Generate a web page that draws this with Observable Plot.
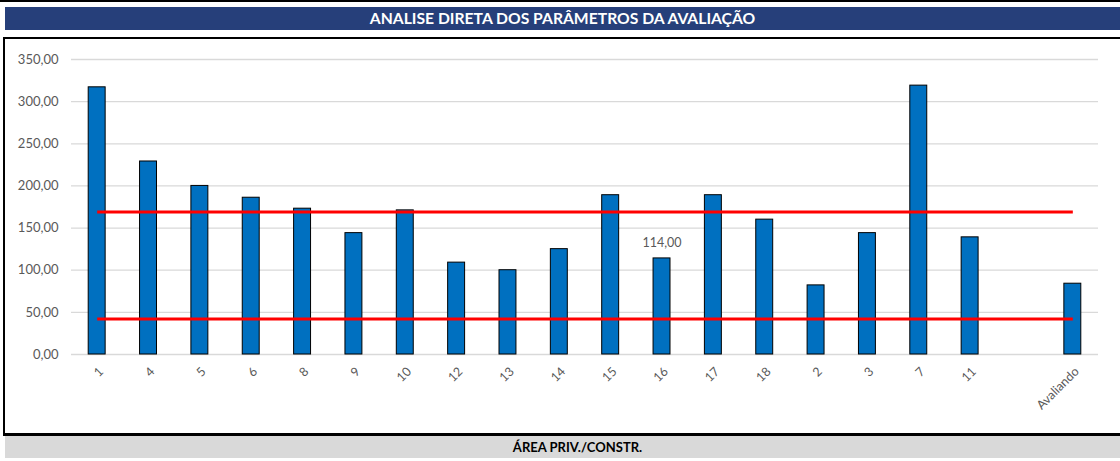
<!DOCTYPE html>
<html>
<head>
<meta charset="utf-8">
<script src="https://cdn.jsdelivr.net/npm/d3@7"></script>
<script src="https://cdn.jsdelivr.net/npm/@observablehq/plot@0.6"></script>
<style>
  html, body { margin: 0; padding: 0; background: #fff; }
  body { font-family: Lato, sans-serif; }
  .blk { position: absolute; background: #000; }
  #title { position: absolute; top: 7px; left: 5px; width: 1115px; height: 23px; background: #263f7a; color: #fff;
           font-weight: bold; font-size: 15.7px; text-align: center; line-height: 23px; font-family: Lato, sans-serif; }
  #chart { position: absolute; top: 39px; left: 5px; width: 1110px; height: 394px; overflow: hidden; }
  #chart svg { display: block; }
  #footer { position: absolute; top: 436px; left: 5px; width: 1085px; padding-left: 30px; height: 22px; background: #d9d9d9; color: #000;
            font-weight: bold; font-size: 13px; text-align: center; line-height: 22px; font-family: Lato, sans-serif; }
</style>
</head>
<body>
<div class="blk" style="top:0;left:0;width:1120px;height:2px"></div>
<div id="title">ANALISE DIRETA DOS PARÂMETROS DA AVALIAÇÃO</div>
<div class="blk" style="top:37px;left:3px;width:1117px;height:2px"></div>
<div class="blk" style="top:37px;left:3px;width:2px;height:399px"></div>
<div class="blk" style="top:433px;left:3px;width:1117px;height:3px"></div>
<div id="chart"></div>
<div id="footer">ÁREA PRIV./CONSTR.</div>
<script>
const categories = ["1","4","5","6","8","9","10","12","13","14","15","16","17","18","2","3","7","11"," ","Avaliando"];
const values = [317,229,200,186,173,144,171,109,100,125,189,114,189,160,82,144,319,139,null,84];
const upperLimit = 169;
const lowerLimit = 42;
const labeledCategory = "16";
const labeledValue = 114;
const yTicks = [0,50,100,150,200,250,300,350];

const fmt = d => d.toFixed(2).replace(".", ",");
const bars = categories.map((c, i) => ({cat: c, value: values[i]})).filter(d => d.value != null);
const upper = categories.map(c => ({cat: c, v: upperLimit}));
const lower = categories.map(c => ({cat: c, v: lowerLimit}));
const labels = [{cat: labeledCategory, value: labeledValue}];

const chart = Plot.plot({
  width: 1110,
  height: 394,
  marginTop: 20,
  marginBottom: 79,
  marginLeft: 66,
  marginRight: 17,
  style: {fontFamily: "Lato, sans-serif", background: "transparent"},
  x: {domain: categories, paddingInner: 0.67, paddingOuter: 0.335, round: false, label: null},
  y: {domain: [0, 350], label: null},
  marks: [
    Plot.gridY(yTicks, {stroke: "#d9d9d9", strokeOpacity: 1, strokeWidth: 1.3}),
    Plot.barY(bars, {x: "cat", y: "value", fill: "#0070c0", stroke: "#000", strokeWidth: 1}),
    Plot.lineY(upper, {x: "cat", y: "v", stroke: "#ff0000", strokeWidth: 3, strokeLinecap: "butt"}),
    Plot.lineY(lower, {x: "cat", y: "v", stroke: "#ff0000", strokeWidth: 3, strokeLinecap: "butt"}),
    Plot.text(labels, {x: "cat", y: "value", text: d => fmt(d.value), dy: -15, fill: "#595959", fontSize: 12.5}),
    Plot.axisY(yTicks, {tickSize: 0, tickPadding: 13, tickFormat: fmt, fill: "#595959", fontSize: 13, label: null}),
    Plot.axisX({tickSize: 0, tickRotate: -45, tickPadding: 15, dx: 4, fill: "#595959", fontSize: 12.5, label: null})
  ]
});
document.getElementById("chart").appendChild(chart);
</script>
</body>
</html>
